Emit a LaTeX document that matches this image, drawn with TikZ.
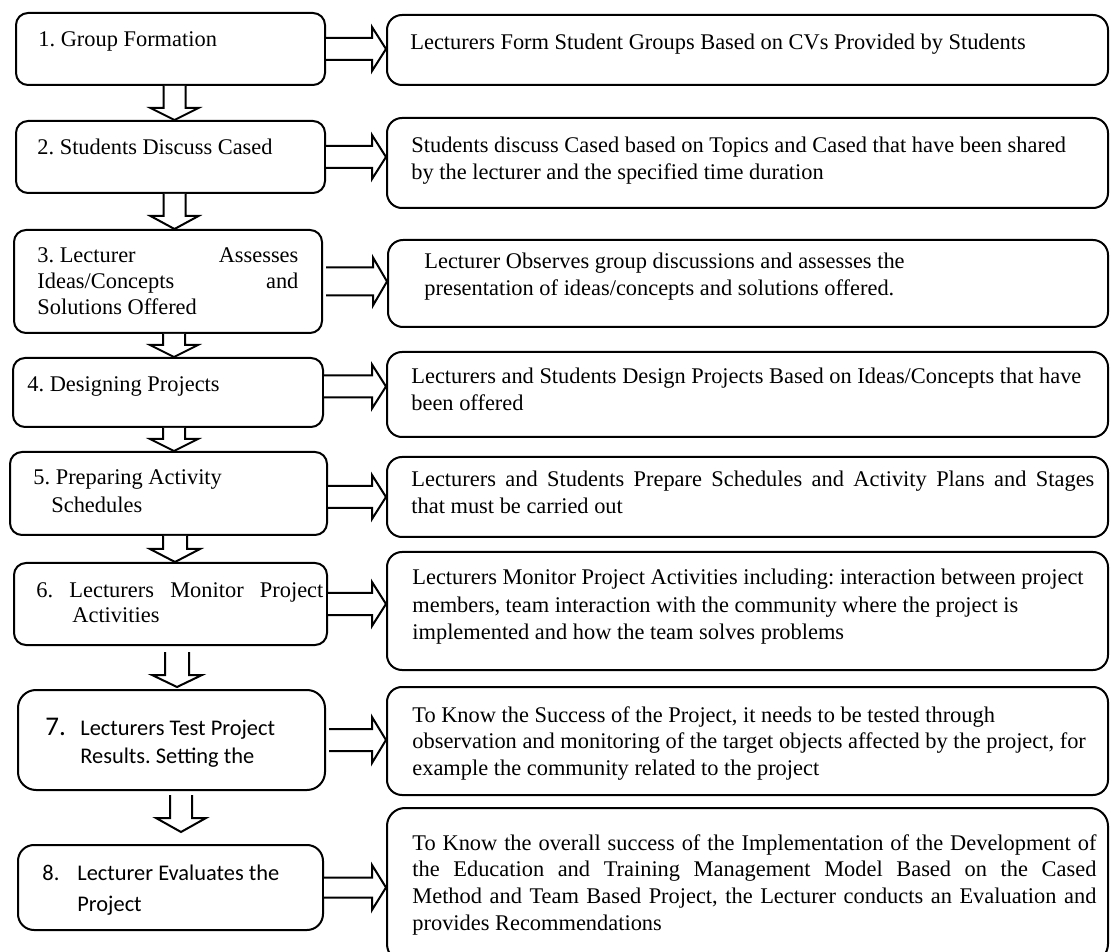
\documentclass[tikz,border=0pt]{standalone}
\usepackage{fontspec}
\setmainfont{Liberation Serif}
\newfontfamily\calibrifont{Carlito}
\usetikzlibrary{calc,fit}
% horizontal block arrow: #1 shaft half width, #2 head half width, #3 start, #4 tip
\newcommand\harr[4]{\draw[blk] let \p1=(#3), \p2=(#4) in
  (\x1,\y1+#1) -- (\x2-7pt,\y1+#1) -- (\x2-7pt,\y1+#2) -- (\x2,\y1)
  -- (\x2-7pt,\y1-#2) -- (\x2-7pt,\y1-#1) -- (\x1,\y1-#1);}
% vertical block arrow: #1 shaft half width, #2 head half width, #3 head length, #4 start, #5 tip
\newcommand\varr[5]{\draw[blk] let \p1=(#4), \p2=(#5) in
  (\x1-#1,\y1) -- (\x1-#1,\y2+#3) -- (\x1-#2,\y2+#3) -- (\x1,\y2)
  -- (\x1+#2,\y2+#3) -- (\x1+#1,\y2+#3) -- (\x1+#1,\y1);}
\begin{document}
\frenchspacing
\begin{tikzpicture}[x=0.5pt,y=-0.5pt,
  lbox/.style={draw,line width=1pt,rounded corners=6pt,inner sep=0pt},
  rbox/.style={draw,line width=1pt,rounded corners=7.5pt,inner sep=0pt},
  txt/.style={inner sep=0pt,anchor=base west,align=flush left,text width=#1,
    font=\fontsize{11.2}{13.4}\selectfont},
  txt/.default=350pt,
  blk/.style={draw,line width=1pt,fill=white,line join=miter}]
\useasboundingbox (0,0) rectangle (1110,952);

% left boxes
\node[lbox,fit={(16,13)(325,85)}] (L1) {};
\node[lbox,fit={(16,121)(325,193)}] (L2) {};
\node[lbox,fit={(14,230)(322,333)}] (L3) {};
\node[lbox,fit={(13,358)(323,427)}] (L4) {};
\node[lbox,fit={(10,452)(327,535)}] (L5) {};
\node[lbox,fit={(14,563)(327,645)}] (L6) {};
\node[lbox,rounded corners=9pt,fit={(18,690)(325,790)}] (L7) {};
\node[lbox,rounded corners=8pt,fit={(18,845)(323,930)}] (L8) {};

% right boxes
\node[rbox,fit={(387,15)(1108,85)}] (R1) {};
\node[rbox,fit={(387,118)(1108,208)}] (R2) {};
\node[rbox,fit={(388,240)(1108,327)}] (R3) {};
\node[rbox,fit={(387,352)(1108,437)}] (R4) {};
\node[rbox,fit={(387,457)(1108,537)}] (R5) {};
\node[rbox,fit={(387,552)(1108,670)}] (R6) {};
\node[rbox,fit={(387,687)(1108,795)}] (R7) {};
\node[rbox,rounded corners=9pt,fit={(387,808)(1108,962)}] (R8) {};

% left texts
\node[txt=150pt] (T1) at (38,47) {1. Group Formation};
\node[txt=150pt] (T2) at (37,155) {2. Students Discuss Cased};
\node[txt=150pt,font=\fontsize{11.2}{13}\selectfont] (T3) at (37,263)
  {\makebox[130.5pt][s]{3. Lecturer\hfill Assesses}\\
   \makebox[130.5pt][s]{Ideas/Concepts\hfill and}\\
   Solutions Offered};
\node[txt=150pt] (T4) at (27,392) {4. Designing Projects};
\node[txt=150pt,font=\fontsize{11.2}{14}\selectfont] (T5) at (33,485)
  {5. Preparing Activity\\ \hspace*{9pt}Schedules};
\node[txt=150pt,font=\fontsize{11.2}{13}\selectfont] (T6) at (36,597)
  {\makebox[143.5pt][s]{6. Lecturers Monitor Project}\\ \hspace*{18pt}Activities};
\node[txt=150pt,font=\calibrifont\fontsize{11.2}{14}\selectfont] (T7) at (45,735)
  {\makebox[17.5pt][l]{\fontsize{13.5}{14}\selectfont 7.}Lecturers Test Project\\
   \hspace*{17.5pt}Results. Setting the};
\node[txt=150pt,font=\calibrifont\fontsize{11.2}{15.5}\selectfont] (T8) at (42,880)
  {\makebox[17.5pt][l]{8.}Lecturer Evaluates the\\ \hspace*{17.5pt}Project};

% right texts
\node[txt] (S1) at (410,50) {Lecturers Form Student Groups Based on CVs Provided by Students};
\node[txt] (S2) at (411,153) {Students discuss Cased based on Topics and Cased that have been shared\\
  by the lecturer and the specified time duration};
\node[txt] (S3) at (424,269) {Lecturer Observes group discussions and assesses the\\
  presentation of ideas/concepts and solutions offered.};
\node[txt] (S4) at (411,384) {Lecturers and Students Design Projects Based on Ideas/Concepts that have\\
  been offered};
\node[txt] (S5) at (411,487)
  {\makebox[341.5pt][s]{Lecturers and Students Prepare Schedules and Activity Plans and Stages}\\
   that must be carried out};
\node[txt,font=\fontsize{11.2}{13.7}\selectfont] (S6) at (412,585)
  {Lecturers Monitor Project Activities including: interaction between project\\
   members, team interaction with the community where the project is\\
   implemented and how the team solves problems};
\node[txt] (S7) at (412,722)
  {To Know the Success of the Project, it needs to be tested through\\
   observation and monitoring of the target objects affected by the project, for\\
   example the community related to the project};
\node[txt] (S8) at (412,850)
  {\makebox[342pt][s]{To Know the overall success of the Implementation of the Development of}\\
   \makebox[342pt][s]{the Education and Training Management Model Based on the Cased}\\
   \makebox[342pt][s]{Method and Team Based Project, the Lecturer conducts an Evaluation and}\\
   provides Recommendations};

% horizontal block arrows
\harr{5.5pt}{11pt}{L1.east}{L1.east -| R1.west}
\harr{5.5pt}{11pt}{L2.east}{L2.east -| R2.west}
\harr{7pt}{12pt}{[xshift=1.5pt]L3.east}{L3.east -| R3.west}
\harr{5.5pt}{11pt}{[yshift=3pt]L4.east}{[yshift=3pt]L4.east -| R4.west}
\harr{5.5pt}{11pt}{[yshift=-1.75pt]L5.east}{[yshift=-1.75pt]L5.east -| R5.west}
\harr{5.5pt}{11pt}{L6.east}{L6.east -| R6.west}
\harr{5.5pt}{11.5pt}{[xshift=1.5pt]L7.east}{L7.east -| R7.west}
\harr{5pt}{11.25pt}{L8.east}{L8.east -| R8.west}

% vertical block arrows
\coordinate (v1) at ([xshift=2pt]L1.south);
\coordinate (v2) at ([xshift=2pt]L2.south);
\coordinate (v3) at ([xshift=3pt]L3.south);
\coordinate (v4) at ([xshift=3pt]L4.south);
\coordinate (v5) at ([xshift=3.25pt]L5.south);
\coordinate (v6s) at (177,652);
\coordinate (v6e) at (177,687);
\coordinate (v7s) at (181,795);
\coordinate (v7e) at (181,832);
\varr{5.5pt}{12pt}{6pt}{v1}{v1 |- L2.north}
\varr{5.5pt}{12pt}{6.5pt}{v2}{v2 |- L3.north}
\varr{5.5pt}{12pt}{6pt}{v3}{v3 |- L4.north}
\varr{5.5pt}{12pt}{6pt}{v4}{v4 |- L5.north}
\varr{6pt}{12.5pt}{6.5pt}{v5}{v5 |- L6.north}
\varr{6pt}{12.5pt}{6pt}{v6s}{v6e}
\varr{5.5pt}{12.5pt}{7pt}{v7s}{v7e}
\end{tikzpicture}
\end{document}
